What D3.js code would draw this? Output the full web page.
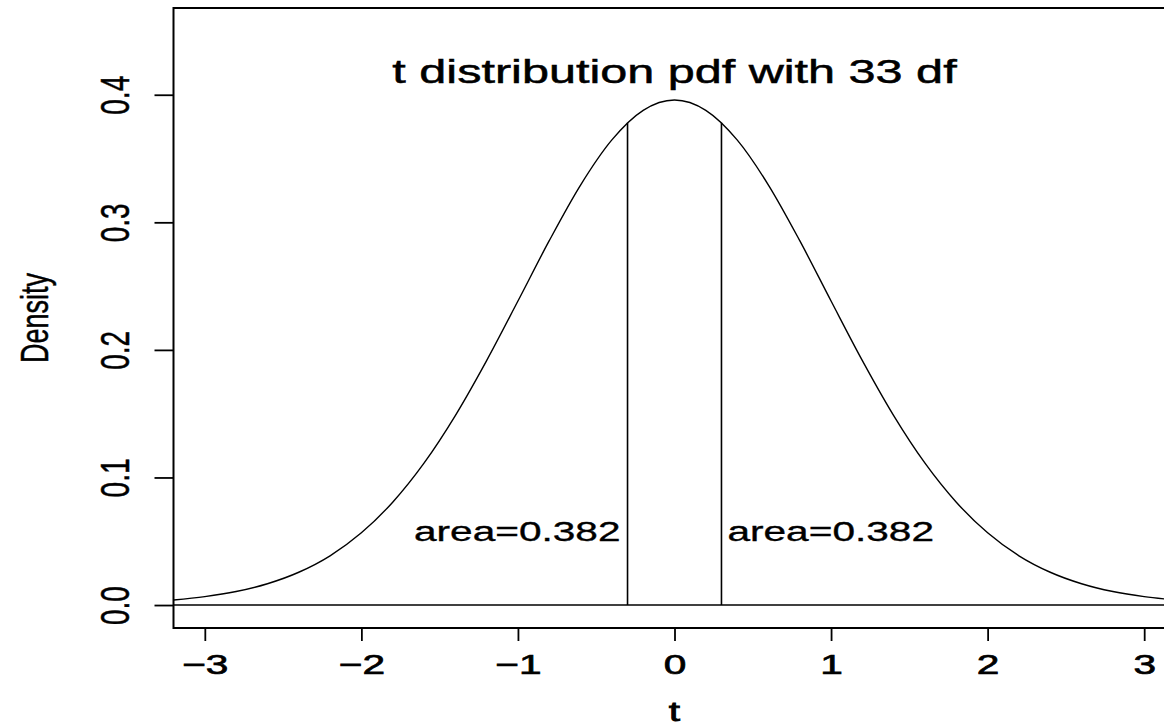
<!DOCTYPE html>
<html>
<head>
<meta charset="utf-8">
<style>
body {
    margin: 0;
    background: #fff;
}
text {
    font-family: "Liberation Sans", Arial, Helvetica, sans-serif;
    fill: #000;
    stroke: #000;
    stroke-width: 0.35px;
}
</style>
</head>
<body>
<script src="https://d3js.org/d3.v7.min.js"></script>
<script>
// values
var tValues = [-3.2, -3.0, -2.8, -2.6, -2.4, -2.2, -2.0, -1.8, -1.6, -1.4, -1.2, -1.0,
               -0.8, -0.6, -0.4, -0.2, 0.0, 0.2, 0.4, 0.6, 0.8, 1.0, 1.2, 1.4,
               1.6, 1.8, 2.0, 2.2, 2.4, 2.6, 2.8, 3.0, 3.2];
var densityValues = [0.0040, 0.0066, 0.0106, 0.0167, 0.0257, 0.0386, 0.0566, 0.0806, 0.1112, 0.1485, 0.1916, 0.2383,
                     0.2856, 0.3292, 0.3646, 0.3878, 0.3959, 0.3878, 0.3646, 0.3292, 0.2856, 0.2383, 0.1916, 0.1485,
                     0.1112, 0.0806, 0.0566, 0.0386, 0.0257, 0.0167, 0.0106, 0.0066, 0.0040];
var cutoffs = [-0.3, 0.3];
var cutoffDensity = [0.3780, 0.3780];
var areaLabels = ["area=0.382", "area=0.382"];
var xTicks = [-3, -2, -1, 0, 1, 2, 3];
var yTicks = [0.0, 0.1, 0.2, 0.3, 0.4];
var titleText = "t distribution pdf with 33 df";
var xLabel = "t";
var yLabel = "Density";

var W = 1164, H = 726;
var plot = {left: 173.5, top: 8, right: 1175.5, bottom: 628};
var sx = 1.45; // the picture is stretched sideways

var svg = d3.select("body").append("svg")
    .attr("width", W)
    .attr("height", H);

var x = d3.scaleLinear().domain([-3.2, 3.2]).range([plot.left, plot.right]);
var y = d3.scaleLinear().domain([-0.018, 0.468]).range([plot.bottom, plot.top]);

svg.append("clipPath").attr("id", "clip")
  .append("rect")
    .attr("x", plot.left).attr("y", plot.top)
    .attr("width", plot.right - plot.left)
    .attr("height", plot.bottom - plot.top);

var inner = svg.append("g").attr("clip-path", "url(#clip)");

// horizontal line at zero
inner.append("line")
    .attr("x1", plot.left).attr("x2", plot.right)
    .attr("y1", y(0)).attr("y2", y(0))
    .attr("stroke", "#000").attr("stroke-width", 1.5);

var pts = tValues.map(function(t, i) { return [t, densityValues[i]]; });
inner.append("path")
    .datum(pts)
    .attr("fill", "none")
    .attr("stroke", "#000")
    .attr("stroke-width", 1.4)
    .attr("d", d3.line()
        .curve(d3.curveMonotoneX)
        .x(function(d) { return x(d[0]); })
        .y(function(d) { return y(d[1]); }));

inner.selectAll(".cut")
    .data(cutoffs)
    .enter().append("line")
    .attr("class", "cut")
    .attr("x1", function(d) { return x(d); })
    .attr("x2", function(d) { return x(d); })
    .attr("y1", y(0))
    .attr("y2", function(d, i) { return y(cutoffDensity[i]); })
    .attr("stroke", "#000").attr("stroke-width", 1.6);

// area labels
inner.selectAll(".area")
    .data(areaLabels)
    .enter().append("g")
    .attr("class", "area")
    .attr("transform", function(d, i) {
        var off = i === 0 ? -7 : 6;
        return "translate(" + (x(cutoffs[i]) + off) + "," + (y(0.058) + 10) + ") scale(" + sx + ",1)";
    })
  .append("text")
    .attr("text-anchor", function(d, i) { return i === 0 ? "end" : "start"; })
    .style("font-size", "28px")
    .text(function(d) { return d; });

// box
svg.append("rect")
    .attr("x", plot.left).attr("y", plot.top)
    .attr("width", plot.right - plot.left)
    .attr("height", plot.bottom - plot.top)
    .attr("fill", "none")
    .attr("stroke", "#000")
    .attr("stroke-width", 2);

// x axis
var xAxis = d3.axisBottom(x)
    .tickValues(xTicks)
    .tickSizeInner(13)
    .tickSizeOuter(0)
    .tickFormat(d3.format("d"));
var gx = svg.append("g")
    .attr("transform", "translate(0," + plot.bottom + ")")
    .call(xAxis);
gx.select(".domain").remove();
gx.selectAll(".tick line").attr("stroke", "#000").attr("stroke-width", 1.8);
gx.selectAll(".tick text")
    .attr("y", 0).attr("dy", null)
    .attr("transform", "translate(0,46) scale(" + sx + ",1)")
    .attr("font-family", null)
    .attr("font-size", null)
    .style("font-size", "28px")
    .style("stroke-width", "0.7px");

// y axis
var yAxis = d3.axisLeft(y)
    .tickValues(yTicks)
    .tickSizeInner(19)
    .tickSizeOuter(0)
    .tickFormat(d3.format(".1f"));
var gy = svg.append("g")
    .attr("transform", "translate(" + plot.left + ",0)")
    .call(yAxis);
gy.select(".domain").remove();
gy.selectAll(".tick line").attr("stroke", "#000").attr("stroke-width", 1.8);
gy.selectAll(".tick text")
    .attr("x", 0).attr("dy", null)
    .attr("text-anchor", "middle")
    .attr("transform", "translate(-45,0) scale(" + sx + ",1) rotate(-90)")
    .attr("font-family", null)
    .attr("font-size", null)
    .style("font-size", "28px");

// title and axis labels
svg.append("g")
    .attr("transform", "translate(" + x(0) + ",83) scale(" + sx + ",1)")
  .append("text")
    .attr("text-anchor", "middle")
    .style("font-size", "33.5px")
    .style("stroke-width", "0.5px")
    .text(titleText);

svg.append("g")
    .attr("transform", "translate(" + x(0) + ",721) scale(" + sx + ",1)")
  .append("text")
    .attr("text-anchor", "middle")
    .style("font-size", "28px")
    .style("stroke-width", "0.8px")
    .text(xLabel);

svg.append("g")
    .attr("transform", "translate(48," + ((plot.top + plot.bottom) / 2) + ") scale(" + sx + ",1) rotate(-90)")
  .append("text")
    .attr("text-anchor", "middle")
    .style("font-size", "27px")
    .text(yLabel);
</script>
</body>
</html>
